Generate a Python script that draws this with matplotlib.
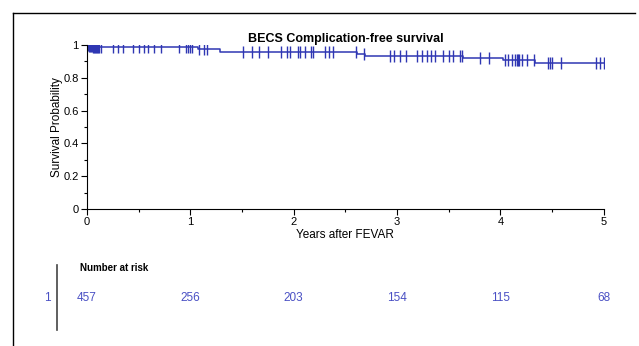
import matplotlib
matplotlib.use('Agg')
import matplotlib.pyplot as plt
import numpy as np
from matplotlib.ticker import MultipleLocator

plt.rcParams['font.family'] = ['Liberation Sans', 'DejaVu Sans']

# Kaplan-Meier step curve (event times, survival after each step)
event_times = [0.0, 0.02, 0.06, 0.12, 1.07, 1.29, 2.61, 2.69, 3.64, 4.02, 4.33, 5.0]
survival = [1.0, 0.995, 0.99, 0.986, 0.978, 0.957, 0.945, 0.934, 0.923, 0.911, 0.893, 0.893]

# censor marks (years)
censor_times = [0.01, 0.02, 0.03, 0.04, 0.05, 0.06, 0.07, 0.08, 0.09, 0.10, 0.11, 0.12, 0.14,
                0.25, 0.30, 0.35, 0.45, 0.50, 0.55, 0.59, 0.65, 0.72,
                0.89, 0.96, 0.98, 1.0, 1.02, 1.08, 1.13, 1.16,
                1.51, 1.60, 1.66, 1.75, 1.88, 1.94, 1.96, 2.04, 2.06, 2.11, 2.17, 2.19,
                2.30, 2.34, 2.38, 2.60, 2.68,
                2.93, 2.97, 3.03, 3.09, 3.19, 3.24, 3.29, 3.33, 3.37, 3.44, 3.50, 3.54, 3.61, 3.63,
                3.80, 3.89, 4.04, 4.07, 4.11, 4.14, 4.16, 4.17, 4.18, 4.21, 4.26, 4.32,
                4.46, 4.48, 4.50, 4.59, 4.92, 4.96, 5.0]

risk_times = [0, 1, 2, 3, 4, 5]
risk_counts = [457, 256, 203, 154, 115, 68]

blue = '#2f37b3'
risk_blue = '#4a50c4'

fig = plt.figure(figsize=(6.39, 3.46), dpi=100)
ax = fig.add_axes([0.136, 0.396, 0.809, 0.474])

ax.step(event_times, survival, where='post', color=blue, lw=1.1)
t_arr = np.array(event_times)
s_arr = np.array(survival)
idx = np.searchsorted(t_arr, censor_times, side='right') - 1
ax.plot(censor_times, s_arr[idx], ls='none', marker='|', ms=8, mew=1.0, color=blue)

ax.set_xlim(0, 5)
ax.set_ylim(0, 1)
ax.spines['top'].set_visible(False)
ax.spines['right'].set_visible(False)
ax.xaxis.set_major_locator(MultipleLocator(1))
ax.xaxis.set_minor_locator(MultipleLocator(0.5))
ax.yaxis.set_minor_locator(MultipleLocator(0.1))
ax.set_yticks([0, 0.2, 0.4, 0.6, 0.8, 1])
ax.set_yticklabels(['0', '0.2', '0.4', '0.6', '0.8', '1'])
ax.tick_params(which='major', length=4, width=0.8, labelsize=8, direction='out', pad=2)
ax.tick_params(which='minor', length=2.5, width=0.8, direction='out')
ax.set_xlabel('Years after FEVAR', fontsize=8.5, labelpad=1)
ax.set_ylabel('Survival Probability', fontsize=8.5, labelpad=0)
ax.set_title('BECS Complication-free survival', fontsize=9, fontweight='bold', pad=2)

# number at risk table
fig.text(80 / 639, 1 - 268 / 346, 'Number at risk', fontsize=7, fontweight='bold', va='center')
fig.text(47 / 639, 1 - 298 / 346, '1', fontsize=8.5, color=risk_blue, va='center', ha='center')
for t, n in zip(risk_times, risk_counts):
    x_fig = ax.transData.transform((t, 0))[0] / fig.bbox.width
    fig.text(x_fig, 1 - 298 / 346, str(n), fontsize=8.5, color=risk_blue, va='center', ha='center')
fig.add_artist(plt.Line2D([57 / 639, 57 / 639], [1 - 265 / 346, 1 - 330 / 346],
                          transform=fig.transFigure, color='#444444', lw=1.2))

# outer frame lines
fig.add_artist(plt.Line2D([13 / 639, 13 / 639], [0, 1 - 13 / 346],
                          transform=fig.transFigure, color='black', lw=1.0))
fig.add_artist(plt.Line2D([13 / 639, 635 / 639], [1 - 13 / 346, 1 - 13 / 346],
                          transform=fig.transFigure, color='black', lw=1.0))

fig.savefig('out.png', dpi=100)
